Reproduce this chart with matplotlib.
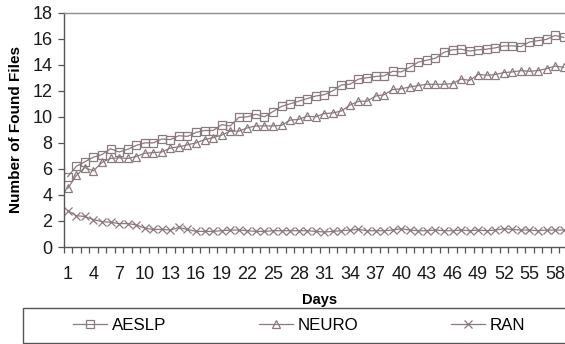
import numpy as np
import matplotlib
matplotlib.use('Agg')
import matplotlib.pyplot as plt
from matplotlib.patches import Rectangle

plt.rcParams['font.family'] = ['Liberation Sans', 'DejaVu Sans']

days = np.arange(1, 60)

aeslp = [5.4, 6.2, 6.55, 6.9, 7.1, 7.55, 7.3, 7.5, 7.8, 8.0,
         8.0, 8.3, 8.25, 8.55, 8.5, 8.8, 8.95, 8.95, 9.4, 9.3,
         9.95, 10.0, 10.2, 10.0, 10.4, 10.8, 11.0, 11.2, 11.4, 11.6,
         11.7, 12.0, 12.45, 12.5, 12.9, 13.0, 13.1, 13.15, 13.5, 13.45,
         13.8, 14.2, 14.35, 14.5, 14.95, 15.15, 15.2, 15.05, 15.15, 15.2,
         15.3, 15.45, 15.45, 15.4, 15.75, 15.85, 15.95, 16.25, 16.1]

neuro = [4.5, 5.5, 6.1, 5.85, 6.5, 6.8, 6.85, 6.8, 6.95, 7.2,
         7.25, 7.3, 7.6, 7.7, 7.85, 8.0, 8.25, 8.4, 8.6, 8.9,
         8.9, 9.15, 9.3, 9.3, 9.3, 9.35, 9.75, 9.8, 10.05, 10.0,
         10.25, 10.3, 10.45, 10.9, 11.2, 11.2, 11.6, 11.7, 12.1, 12.15,
         12.3, 12.4, 12.5, 12.5, 12.5, 12.55, 12.9, 12.8, 13.25, 13.2,
         13.25, 13.4, 13.45, 13.55, 13.5, 13.55, 13.7, 13.9, 13.8]

ran = [2.8, 2.4, 2.35, 2.1, 1.95, 1.9, 1.8, 1.8, 1.7, 1.45,
       1.35, 1.35, 1.3, 1.5, 1.35, 1.2, 1.2, 1.2, 1.25, 1.3,
       1.3, 1.25, 1.2, 1.2, 1.25, 1.25, 1.25, 1.25, 1.25, 1.2,
       1.15, 1.2, 1.25, 1.3, 1.35, 1.25, 1.25, 1.25, 1.3, 1.4,
       1.3, 1.25, 1.25, 1.3, 1.25, 1.25, 1.3, 1.25, 1.3, 1.25,
       1.3, 1.4, 1.35, 1.3, 1.3, 1.25, 1.3, 1.3, 1.3]

series = [('AESLP', aeslp, 's'), ('NEURO', neuro, '^'), ('RAN', ran, 'x')]
line_col = '#8a7a7e'
axis_col = '#555555'

fig = plt.figure(figsize=(5.65, 3.44), dpi=100)
W, H = 565, 344
x0, y0 = 63.5, 247
step = 8.55
ax = fig.add_axes([x0 / W, (H - y0) / H, len(days) * step / W, (y0 - 12.7) / H])

handles = []
for name, vals, mk in series:
    h, = ax.plot(days, vals, color=line_col, lw=0.9, marker=mk, ms=5.8,
                 mfc='none', mec=line_col, mew=0.9, label=name)
    handles.append(h)

ax.set_xlim(0.5, len(days) + 0.5)
ax.set_ylim(0, 18)
ax.set_yticks(np.arange(0, 19, 2))
ax.set_xticks(days[::3])
ax.set_xticks(np.arange(0.5, len(days) + 1, 1), minor=True)

ax.tick_params(axis='y', direction='out', length=4, width=0.9, color=axis_col,
               labelsize=13, pad=4, labelcolor='#1a1a1a')
ax.tick_params(axis='x', which='major', length=0, labelsize=13, pad=14,
               labelcolor='#1a1a1a')
ax.tick_params(axis='x', which='minor', direction='out', length=4, width=0.9,
               color=axis_col)

for s in ['left', 'bottom']:
    ax.spines[s].set_color(axis_col)
    ax.spines[s].set_linewidth(1.0)
ax.spines['top'].set_color('#8c8c8c')
ax.spines['top'].set_linewidth(1.0)
ax.spines['right'].set_visible(False)

ax.set_xlabel('Days', fontsize=10.5, fontweight='bold')
ax.xaxis.set_label_coords(0.507, -0.196)
ax.set_ylabel('Number of Found Files', fontsize=11, fontweight='bold')
ax.yaxis.set_label_coords(-0.080, 0.5)

# legend box below the plot
fig.patches.append(Rectangle((22.7 / W, 1 / H), (573 - 22.7) / W, (343 - 308) / H,
                             transform=fig.transFigure, fill=False,
                             edgecolor=axis_col, lw=1.0))
fig.legend(handles=handles, ncol=3, frameon=False, loc='center left',
           bbox_to_anchor=(73 / W, 1 - 325.5 / H), borderpad=0, borderaxespad=0,
           fontsize=12.2, handlelength=2.0, handletextpad=0.3, columnspacing=5.45,
           markerscale=0.9)

fig.savefig('out.png', dpi=100)
